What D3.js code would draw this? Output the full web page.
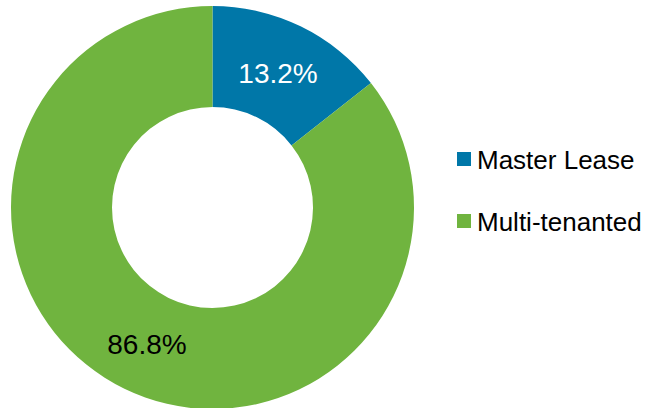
<!DOCTYPE html>
<html lang="en">
<head>
    <meta charset="UTF-8">
    <title>Lease type donut</title>
    <script src="https://cdn.jsdelivr.net/npm/d3@7"></script>
    <style>
        body { margin: 0; background: #fff; }
    </style>
</head>
<body>
<script>
    // data
    const categories = ["Master Lease", "Multi-tenanted"];
    // slice sizes as drawn (blue slice spans ~52 degrees in the picture)
    const sliceValues = [14.4, 85.6];
    const labels = ["13.2%", "86.8%"];
    const colors = ["#0077a8", "#70b43f"];
    const labelColors = ["#ffffff", "#000000"];

    const width = 648, height = 408;
    const cx = 212.5, cy = 207.5;
    const outerR = 201.5, innerR = 100.5;

    const svg = d3.select("body").append("svg")
        .attr("width", width)
        .attr("height", height)
        .style("font-family", "Arial, 'Liberation Sans', sans-serif");

    const pie = d3.pie().sort(null).value(d => d)(sliceValues);
    const arc = d3.arc().innerRadius(innerR).outerRadius(outerR);

    const g = svg.append("g").attr("transform", `translate(${cx},${cy})`);

    g.selectAll("path")
        .data(pie)
        .join("path")
        .attr("d", arc)
        .attr("fill", (d, i) => colors[i]);

    // labels sit on the middle of each ring slice
    const labelArc = d3.arc().innerRadius(150).outerRadius(150);
    g.selectAll("text")
        .data(pie)
        .join("text")
        .attr("x", d => labelArc.centroid(d)[0])
        .attr("y", d => labelArc.centroid(d)[1] + (d.index === 0 ? 10 : 12))
        .attr("text-anchor", "middle")
        .attr("font-size", 28)
        .attr("fill", (d, i) => labelColors[i])
        .text((d, i) => labels[i]);

    // legend
    const legend = svg.append("g").attr("transform", "translate(457,152)");
    const item = legend.selectAll("g")
        .data(categories)
        .join("g")
        .attr("transform", (d, i) => `translate(0,${i * 62})`);
    item.append("rect")
        .attr("width", 14).attr("height", 14)
        .attr("fill", (d, i) => colors[i]);
    item.append("text")
        .attr("x", 20).attr("y", 17)
        .attr("font-size", 26)
        .attr("fill", "#000")
        .text(d => d);
</script>
</body>
</html>
